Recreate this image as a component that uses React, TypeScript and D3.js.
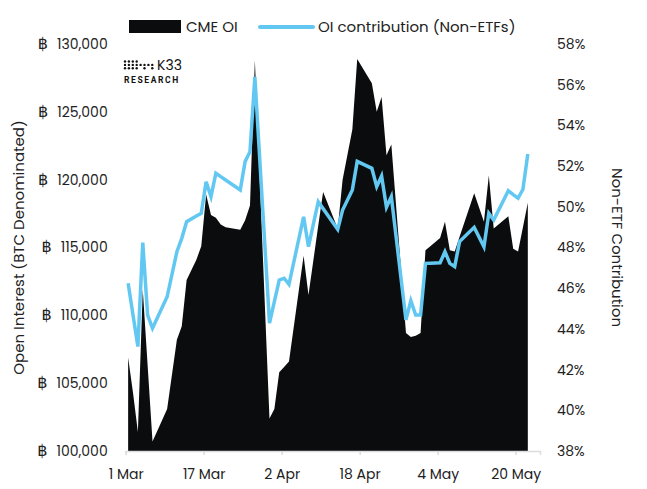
import * as d3 from 'd3';
import { useEffect, useRef } from 'react';

const dates = [
  '2024-03-01', '2024-03-02', '2024-03-03', '2024-03-04', '2024-03-05', '2024-03-06', '2024-03-09',
  '2024-03-11', '2024-03-12', '2024-03-13', '2024-03-15', '2024-03-16', '2024-03-17', '2024-03-18',
  '2024-03-19', '2024-03-20', '2024-03-21', '2024-03-24', '2024-03-25', '2024-03-26', '2024-03-27',
  '2024-03-30', '2024-03-31', '2024-04-01', '2024-04-02', '2024-04-03', '2024-04-06', '2024-04-07',
  '2024-04-09', '2024-04-10', '2024-04-13', '2024-04-14', '2024-04-16', '2024-04-17', '2024-04-20',
  '2024-04-21', '2024-04-22', '2024-04-23', '2024-04-24', '2024-04-27', '2024-04-28', '2024-04-29',
  '2024-04-30', '2024-05-01', '2024-05-02', '2024-05-04', '2024-05-05', '2024-05-06', '2024-05-07',
  '2024-05-08', '2024-05-11', '2024-05-13', '2024-05-14', '2024-05-15', '2024-05-18', '2024-05-19',
  '2024-05-20', '2024-05-21', '2024-05-22'
];

// CME open interest, BTC
const cmeOI = [
  106900, 104300, 101400, 111900, 106300, 100700, 103100,
  108200, 109200, 112600, 114100, 115100, 118900, 117400,
  117200, 116700, 116500, 116300, 117000, 118100, 128800,
  102400, 103100, 105800, 106200, 106600, 114400, 111500,
  116600, 119100, 116400, 120000, 123700, 128900, 127100,
  125000, 126100, 121800, 122600, 108700, 108400, 108500,
  108700, 114800, 115100, 115700, 116900, 114800, 114700,
  115800, 119000, 116900, 120300, 116400, 117300, 114900,
  114700, 116500, 118300
];

// non-ETF share of OI, %
const nonEtfShare = [
  46.24, 44.68, 43.13, 48.24, 44.68, 44.03, 45.58,
  47.79, 48.45, 49.27, 49.55, 49.68, 51.23, 50.5,
  51.65, 51.48, 51.32, 50.83, 52.22, 52.71, 56.39,
  44.28, 45.34, 46.4, 46.49, 46.19, 49.51, 48.04,
  50.25, 49.91, 48.89, 49.84, 50.83, 52.23, 51.89,
  50.99, 51.51, 49.98, 50.5, 44.44, 45.39, 44.68,
  44.68, 47.22, 47.23, 47.25, 47.79, 47.22, 47.06,
  48.29, 48.99, 48.04, 49.68, 49.35, 50.79, 50.6,
  50.42, 50.86, 52.59
];

const xTickDates = ['2024-03-01', '2024-03-17', '2024-04-02', '2024-04-18', '2024-05-04', '2024-05-20'];
const leftTicks = [100000, 105000, 110000, 115000, 120000, 125000, 130000];
const rightTicks = [38, 40, 42, 44, 46, 48, 50, 52, 54, 56, 58];

const WIDTH = 647;
const HEIGHT = 489;
const margin = { top: 44, right: 107, bottom: 38, left: 125.7 };
const FONT = 'Poppins, "Open Sans", sans-serif';
const BLUE = '#62c8f1';
const BLACK = '#0b0c0e';

export default function App() {
  const svgRef = useRef<SVGSVGElement>(null);

  useEffect(() => {
    const svg = d3.select(svgRef.current!);
    svg.selectAll('*').remove();

    const parse = d3.utcParse('%Y-%m-%d');
    const rows = dates.map((d, i) => ({
      date: d3.utcHour.offset(parse(d)!, 12),
      oi: cmeOI[i],
      share: nonEtfShare[i]
    }));

    const x = d3
      .scaleUtc()
      .domain([parse('2024-03-01')!, parse('2024-05-25')!])
      .range([margin.left, WIDTH - margin.right]);
    const yLeft = d3.scaleLinear().domain([100000, 130000]).range([HEIGHT - margin.bottom, margin.top]);
    const yRight = d3.scaleLinear().domain([38, 58]).range([HEIGHT - margin.bottom, margin.top]);

    const area = d3
      .area<(typeof rows)[number]>()
      .x((d) => x(d.date))
      .y0(yLeft(100000))
      .y1((d) => yLeft(d.oi));
    const line = d3
      .line<(typeof rows)[number]>()
      .x((d) => x(d.date))
      .y((d) => yRight(d.share));

    svg.append('path').datum(rows).attr('d', area).attr('fill', BLACK);
    svg
      .append('path')
      .datum(rows)
      .attr('d', line)
      .attr('fill', 'none')
      .attr('stroke', BLUE)
      .attr('stroke-width', 3.5)
      .attr('stroke-linejoin', 'miter');

    // x axis
    svg
      .append('g')
      .attr('transform', `translate(0,${HEIGHT - margin.bottom})`)
      .call(
        d3
          .axisBottom(x)
          .tickValues(xTickDates.map((d) => parse(d)!))
          .tickFormat((d) => d3.utcFormat('%-d %b')(d as Date))
          .tickSize(4)
          .tickPadding(14)
      )
      .call((g) => {
        g.select('.domain').attr('stroke', '#dcdcdc').attr('stroke-width', 1.5);
        g.selectAll('.tick line').attr('stroke', '#dcdcdc').attr('stroke-width', 1.5);
        g.selectAll('.tick text').attr('font-size', 14).attr('fill', '#222');
        g.attr('font-family', FONT);
      });

    // left axis, currency sign in its own tspan so it can be sized
    svg
      .append('g')
      .attr('transform', `translate(${margin.left},0)`)
      .call(d3.axisLeft(yLeft).tickValues(leftTicks).tickSize(0).tickPadding(18))
      .call((g) => {
        g.select('.domain').remove();
        g.attr('font-family', FONT);
        g.selectAll<SVGTextElement, number>('.tick text')
          .attr('font-size', 14)
          .attr('fill', '#222')
          .text(null)
          .each(function (d) {
            const t = d3.select(this);
            t.append('tspan').attr('font-size', 16).attr('font-family', '"DejaVu Sans", sans-serif').text('\u0E3F');
            t.append('tspan').attr('dx', 9).text(d3.format(',')(d));
          });
      });

    // right axis
    svg
      .append('g')
      .attr('transform', `translate(${WIDTH - margin.right},0)`)
      .call(
        d3
          .axisRight(yRight)
          .tickValues(rightTicks)
          .tickFormat((d) => `${d}%`)
          .tickSize(0)
          .tickPadding(17)
      )
      .call((g) => {
        g.select('.domain').remove();
        g.selectAll('.tick text').attr('font-size', 14).attr('fill', '#222');
        g.attr('font-family', FONT);
      });

    // axis titles
    svg
      .append('text')
      .attr('transform', `translate(24,${(margin.top + HEIGHT - margin.bottom) / 2}) rotate(-90)`)
      .attr('text-anchor', 'middle')
      .attr('font-family', FONT)
      .attr('font-size', 15)
      .attr('fill', '#222')
      .text('Open Interest (BTC Denominated)');
    svg
      .append('text')
      .attr('transform', `translate(612,${(margin.top + HEIGHT - margin.bottom) / 2}) rotate(90)`)
      .attr('text-anchor', 'middle')
      .attr('font-family', FONT)
      .attr('font-size', 15)
      .attr('fill', '#222')
      .text('Non-ETF Contribution');

    // legend
    const legend = svg.append('g').attr('font-family', FONT).attr('font-size', 15).attr('fill', '#222');
    legend.append('rect').attr('x', 129).attr('y', 20).attr('width', 52).attr('height', 13).attr('fill', BLACK);
    legend.append('text').attr('x', 186).attr('y', 32).text('CME OI');
    legend
      .append('line')
      .attr('x1', 260)
      .attr('x2', 313)
      .attr('y1', 27)
      .attr('y2', 27)
      .attr('stroke', BLUE)
      .attr('stroke-width', 4)
      .attr('stroke-linecap', 'round');
    legend.append('text').attr('x', 318).attr('y', 32).text('OI contribution (Non-ETFs)');

    // logo
    const logo = svg.append('g').attr('transform', 'translate(124,59)');
    const dotRows = [
      [1, 1, 1, 1, 0, 0, 0, 0],
      [1, 1, 1, 1, 1, 1, 1, 1],
      [1, 1, 1, 1, 0, 1, 0, 1]
    ];
    dotRows.forEach((row, r) =>
      row.forEach((on, c) => {
        if (on) logo.append('circle').attr('cx', 1 + c * 3.9).attr('cy', 2.5 + r * 3.4).attr('r', 1.2).attr('fill', '#111');
      })
    );
    logo
      .append('text')
      .attr('x', 33)
      .attr('y', 10.5)
      .attr('font-family', FONT)
      .attr('font-size', 14)
      .attr('fill', '#111')
      .text('K33');
    logo
      .append('text')
      .attr('x', 0)
      .attr('y', 23.5)
      .attr('font-family', 'Roboto, sans-serif')
      .attr('font-weight', 700)
      .attr('font-size', 8.5)
      .attr('letter-spacing', 1.6)
      .attr('fill', '#111')
      .text('RESEARCH');
  }, []);

  return (
    <svg
      ref={svgRef}
      width={WIDTH}
      height={HEIGHT}
      style={{ position: 'absolute', left: 0, top: 0, background: '#fff' }}
    />
  );
}
